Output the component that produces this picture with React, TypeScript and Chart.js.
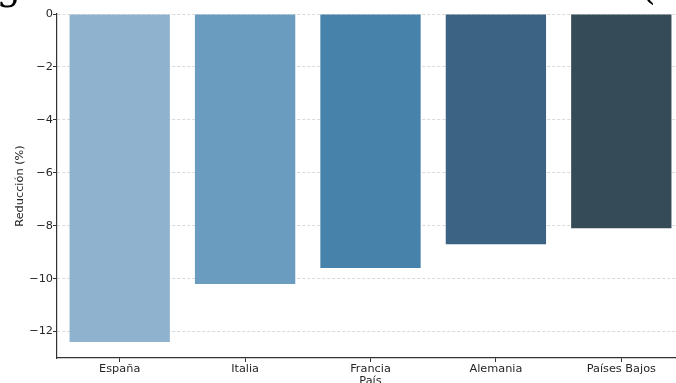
import { useEffect, useRef } from 'react';
import { Chart, registerables } from 'chart.js';

Chart.register(...registerables);

const countries = ['España', 'Italia', 'Francia', 'Alemania', 'Países Bajos'];
const reductions = [-12.4, -10.2, -9.6, -8.7, -8.1];
const barColors = ['#8fb3cf', '#6a9cbf', '#4682aa', '#3d6384', '#354b58'];
const yTicks = [0, -2, -4, -6, -8, -10, -12];
const yMin = -13;
const yMax = 0;
const yTitle = 'Reducción (%)';
const xTitle = 'País';
const chartTitle = 'Figura 2: Reducción de emisiones (%)';

const FONT = '"DejaVu Sans", sans-serif';
const FS = 11.3;

const titlePlugin = {
  id: 'cutTitle',
  afterDraw(chart: any) {
    const { ctx, chartArea } = chart;
    ctx.save();
    ctx.font = '39px "DejaVu Serif", serif';
    ctx.fillStyle = '#000';
    ctx.textAlign = 'right';
    ctx.textBaseline = 'alphabetic';
    ctx.fillText(chartTitle, chartArea.right + 24, chartArea.top - 15);
    ctx.restore();
  },
};

export default function App() {
  const ref = useRef<HTMLCanvasElement | null>(null);

  useEffect(() => {
    if (!ref.current) return;
    const chart = new Chart(ref.current, {
      type: 'bar',
      data: {
        labels: countries,
        datasets: [
          {
            data: reductions,
            backgroundColor: barColors,
            borderWidth: 0,
            categoryPercentage: 0.8,
            barPercentage: 1,
          },
        ],
      },
      options: {
        responsive: false,
        animation: false,
        layout: { padding: { top: 54, left: 0, right: 0, bottom: 0 } },
        plugins: {
          legend: { display: false },
          tooltip: { enabled: false },
          title: { display: false },
        },
        scales: {
          x: {
            offset: true,
            afterFit(scale: any) {
              scale.height = 36;
            },
            grid: {
              offset: false,
              drawOnChartArea: false,
              drawTicks: true,
              tickLength: 4,
              tickColor: '#333',
              tickWidth: 1,
            },
            border: { display: true, color: '#333', width: 1.2 },
            ticks: {
              color: '#262626',
              font: { family: FONT, size: FS },
              padding: 0,
              maxRotation: 0,
            },
            title: {
              display: true,
              text: xTitle,
              color: '#262626',
              font: { family: FONT, size: FS },
              padding: { top: 0, bottom: 6 },
            },
          },
          y: {
            min: yMin,
            max: yMax,
            z: 1,
            afterFit(scale: any) {
              scale.width = 57;
            },
            afterBuildTicks(scale: any) {
              scale.ticks = yTicks.map((v) => ({ value: v }));
            },
            grid: {
              color: '#cfcfcf',
              lineWidth: 0.8,
              drawTicks: true,
              tickLength: 4,
              tickColor: '#333',
              tickWidth: 1,
              tickBorderDash: [],
            },
            border: { display: true, color: '#333', width: 1.2, dash: [3, 2] },
            ticks: {
              color: '#262626',
              font: { family: FONT, size: FS },
              padding: 0,
              callback: (v: any) => (v < 0 ? '\u2212' + Math.abs(v) : String(v)),
            },
            title: {
              display: true,
              text: yTitle,
              color: '#262626',
              font: { family: FONT, size: FS },
              padding: { top: 13, bottom: 0 },
            },
          },
        },
      },
      plugins: [titlePlugin],
    });
    return () => chart.destroy();
  }, []);

  return (
    <div
      style={{
        position: 'fixed',
        left: 0,
        top: 0,
        width: 676,
        height: 383,
        overflow: 'hidden',
        background: '#fff',
      }}
    >
      <canvas
        ref={ref}
        width={684}
        height={434}
        style={{ position: 'absolute', left: 0, top: -40, width: 684, height: 434 }}
      />
    </div>
  );
}
